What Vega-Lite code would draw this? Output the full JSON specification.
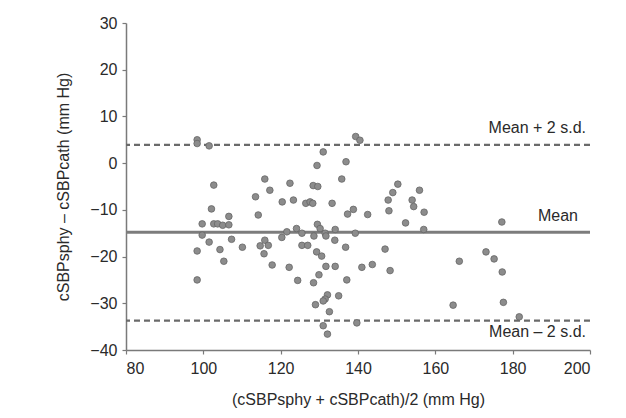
{
  "$schema": "https://vega.github.io/schema/vega-lite/v6.json",
  "width": 464,
  "height": 327,
  "autosize": {"type": "none"},
  "padding": {"left": 126, "top": 23, "right": 36, "bottom": 68},
  "background": "white",
  "config": {
    "view": {"stroke": null},
    "axis": {
      "grid": false,
      "domainColor": "#7a7a7a",
      "tickColor": "#7a7a7a",
      "domainWidth": 1.5,
      "tickWidth": 1.2,
      "tickSize": 4,
      "labelFont": "Liberation Sans",
      "labelFontSize": 16,
      "labelColor": "#2a2a2a",
      "titleFont": "Liberation Sans",
      "titleFontSize": 16,
      "titleFontWeight": "normal",
      "titleColor": "#2a2a2a"
    },
    "text": {"font": "Liberation Sans", "fontSize": 16, "color": "#2a2a2a"}
  },
  "datasets": {
    "points": [
      {"mean": 98.4, "diff": 5.0}, {"mean": 98.4, "diff": 4.2}, {"mean": 101.5, "diff": 3.7},
      {"mean": 102.7, "diff": -4.7}, {"mean": 102.1, "diff": -9.8}, {"mean": 99.7, "diff": -13.0},
      {"mean": 99.7, "diff": -15.4}, {"mean": 98.4, "diff": -18.8}, {"mean": 98.4, "diff": -25.0},
      {"mean": 101.5, "diff": -16.9}, {"mean": 102.7, "diff": -13.0}, {"mean": 103.7, "diff": -13.0},
      {"mean": 105.0, "diff": -13.3}, {"mean": 106.6, "diff": -11.4}, {"mean": 106.6, "diff": -13.2},
      {"mean": 107.3, "diff": -16.3}, {"mean": 104.3, "diff": -18.5}, {"mean": 105.3, "diff": -21.0},
      {"mean": 110.1, "diff": -18.0}, {"mean": 113.5, "diff": -7.2}, {"mean": 114.2, "diff": -11.1},
      {"mean": 139.4, "diff": 5.7}, {"mean": 140.5, "diff": 4.9}, {"mean": 131.0, "diff": 2.4},
      {"mean": 129.4, "diff": -0.5}, {"mean": 136.9, "diff": 0.3}, {"mean": 135.8, "diff": -3.4},
      {"mean": 115.9, "diff": -3.4}, {"mean": 117.2, "diff": -5.8}, {"mean": 122.4, "diff": -4.3},
      {"mean": 128.4, "diff": -4.8}, {"mean": 129.6, "diff": -5.0}, {"mean": 123.3, "diff": -7.9},
      {"mean": 120.4, "diff": -8.3}, {"mean": 126.5, "diff": -8.6}, {"mean": 127.6, "diff": -8.3},
      {"mean": 128.3, "diff": -8.6}, {"mean": 133.3, "diff": -8.6}, {"mean": 137.3, "diff": -10.9},
      {"mean": 138.8, "diff": -9.9}, {"mean": 142.5, "diff": -11.0}, {"mean": 147.8, "diff": -7.9},
      {"mean": 149.0, "diff": -6.3}, {"mean": 150.3, "diff": -4.5}, {"mean": 148.0, "diff": -10.2},
      {"mean": 155.9, "diff": -5.8}, {"mean": 154.0, "diff": -7.9}, {"mean": 154.4, "diff": -9.3},
      {"mean": 157.1, "diff": -10.5}, {"mean": 152.3, "diff": -12.8}, {"mean": 157.0, "diff": -14.2},
      {"mean": 124.1, "diff": -14.0}, {"mean": 125.5, "diff": -15.0}, {"mean": 121.6, "diff": -14.7},
      {"mean": 120.3, "diff": -15.9}, {"mean": 129.5, "diff": -13.1}, {"mean": 130.2, "diff": -14.0},
      {"mean": 131.5, "diff": -15.0}, {"mean": 128.6, "diff": -15.6}, {"mean": 131.7, "diff": -15.6},
      {"mean": 134.1, "diff": -14.2}, {"mean": 139.3, "diff": -15.0}, {"mean": 134.0, "diff": -16.5},
      {"mean": 114.7, "diff": -17.7}, {"mean": 115.9, "diff": -16.5}, {"mean": 116.8, "diff": -17.6},
      {"mean": 115.7, "diff": -19.4}, {"mean": 125.5, "diff": -17.6}, {"mean": 127.0, "diff": -17.6},
      {"mean": 129.3, "diff": -19.0}, {"mean": 130.6, "diff": -19.9}, {"mean": 136.8, "diff": -18.0},
      {"mean": 147.0, "diff": -18.4}, {"mean": 117.8, "diff": -21.8}, {"mean": 122.2, "diff": -22.3},
      {"mean": 131.7, "diff": -22.1}, {"mean": 134.1, "diff": -22.1}, {"mean": 141.0, "diff": -22.3},
      {"mean": 143.7, "diff": -21.7}, {"mean": 148.3, "diff": -23.0}, {"mean": 124.4, "diff": -25.1},
      {"mean": 128.5, "diff": -25.6}, {"mean": 129.9, "diff": -23.9}, {"mean": 137.1, "diff": -25.0},
      {"mean": 132.1, "diff": -28.2}, {"mean": 131.5, "diff": -29.1}, {"mean": 131.0, "diff": -29.5},
      {"mean": 129.0, "diff": -30.3}, {"mean": 135.0, "diff": -28.4}, {"mean": 132.6, "diff": -31.8},
      {"mean": 131.0, "diff": -34.8}, {"mean": 132.1, "diff": -36.6}, {"mean": 139.7, "diff": -34.2},
      {"mean": 177.2, "diff": -12.6}, {"mean": 173.1, "diff": -19.0}, {"mean": 175.2, "diff": -20.5},
      {"mean": 177.3, "diff": -23.3}, {"mean": 166.2, "diff": -21.0}, {"mean": 164.6, "diff": -30.4},
      {"mean": 177.6, "diff": -29.8}, {"mean": 181.7, "diff": -32.9}
    ],
    "lines": [
      {"name": "Mean + 2 s.d.", "value": 3.9, "kind": "limit"},
      {"name": "Mean", "value": -14.8, "kind": "mean"},
      {"name": "Mean – 2 s.d.", "value": -33.7, "kind": "limit"}
    ]
  },
  "layer": [
    {
      "data": {"name": "lines"},
      "transform": [{"filter": "datum.kind === 'limit'"}],
      "mark": {"type": "rule", "strokeDash": [6, 4], "strokeWidth": 2.2, "color": "#6a6a6a"},
      "encoding": {
        "y": {"field": "value", "type": "quantitative", "scale": {"domain": [-40, 30]}}
      }
    },
    {
      "data": {"name": "lines"},
      "transform": [{"filter": "datum.kind === 'mean'"}],
      "mark": {"type": "rule", "strokeWidth": 3, "color": "#7c7c7c"},
      "encoding": {
        "y": {"field": "value", "type": "quantitative", "scale": {"domain": [-40, 30]}}
      }
    },
    {
      "data": {"name": "points"},
      "mark": {"type": "circle", "size": 44, "fill": "#8c8c8c", "fillOpacity": 1, "stroke": "#666666", "strokeWidth": 0.8},
      "encoding": {
        "x": {
          "field": "mean", "type": "quantitative",
          "scale": {"domain": [80, 200], "nice": false, "zero": false},
          "axis": {"values": [80, 100, 120, 140, 160, 180, 200], "labelPadding": 6, "titlePadding": 15,
                   "title": "(cSBPsphy + cSBPcath)/2 (mm Hg)"}
        },
        "y": {
          "field": "diff", "type": "quantitative",
          "scale": {"domain": [-40, 30], "nice": false, "zero": false},
          "axis": {"values": [-40, -30, -20, -10, 0, 10, 20, 30], "labelPadding": 5, "titlePadding": 18,
                   "title": "cSBPsphy – cSBPcath (mm Hg)"}
        }
      }
    },
    {
      "data": {"name": "lines"},
      "transform": [{"filter": "datum.name === 'Mean + 2 s.d.'"}],
      "mark": {"type": "text", "align": "right", "baseline": "middle", "dx": -4, "dy": -17},
      "encoding": {
        "x": {"datum": 200, "type": "quantitative"},
        "y": {"field": "value", "type": "quantitative"},
        "text": {"field": "name"}
      }
    },
    {
      "data": {"name": "lines"},
      "transform": [{"filter": "datum.name === 'Mean'"}],
      "mark": {"type": "text", "align": "right", "baseline": "middle", "dx": -12, "dy": -16},
      "encoding": {
        "x": {"datum": 200, "type": "quantitative"},
        "y": {"field": "value", "type": "quantitative"},
        "text": {"field": "name"}
      }
    },
    {
      "data": {"name": "lines"},
      "transform": [{"filter": "datum.name === 'Mean – 2 s.d.'"}],
      "mark": {"type": "text", "align": "right", "baseline": "middle", "dx": -4, "dy": 11},
      "encoding": {
        "x": {"datum": 200, "type": "quantitative"},
        "y": {"field": "value", "type": "quantitative"},
        "text": {"field": "name"}
      }
    }
  ]
}
